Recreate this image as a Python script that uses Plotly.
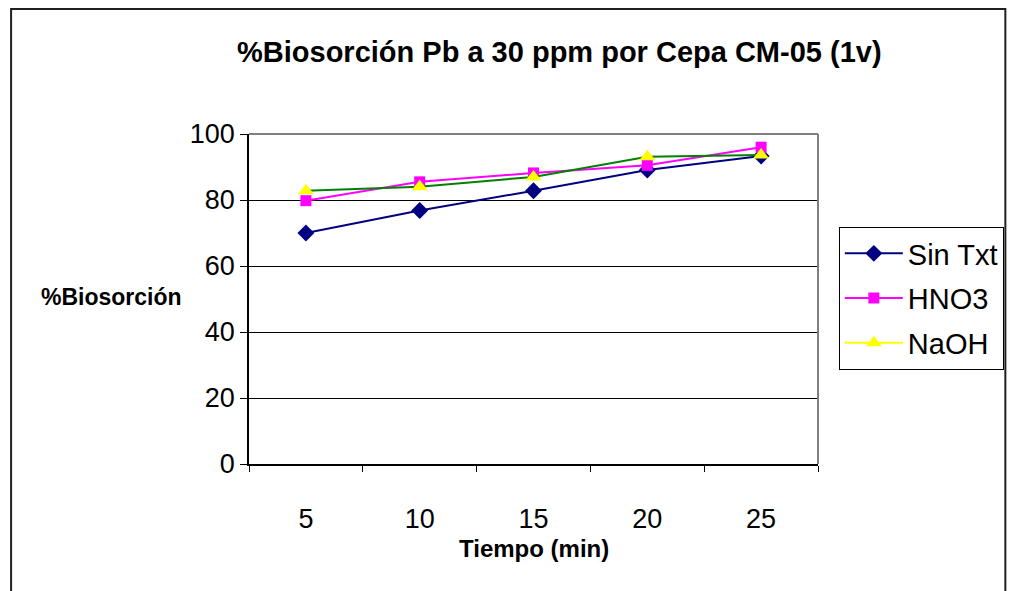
import plotly.graph_objects as go

tiempo = ["5", "10", "15", "20", "25"]
sin_txt = [70.0, 76.8, 82.8, 89.1, 93.3]
hno3 = [79.8, 85.5, 88.2, 90.5, 96.0]
naoh = [82.8, 84.0, 87.0, 93.1, 93.6]

FONT = "Arial, Liberation Sans, sans-serif"

fig = go.Figure()
fig.add_trace(go.Scatter(x=tiempo, y=sin_txt, name="Sin Txt", mode="lines+markers",
                         line=dict(color="#000080", width=2),
                         marker=dict(symbol="diamond", size=13, color="#000080"),
                         legendgroup="a"))
fig.add_trace(go.Scatter(x=tiempo, y=hno3, name="HNO3", mode="lines+markers",
                         line=dict(color="#FF00FF", width=2),
                         marker=dict(symbol="square", size=11, color="#FF00FF"),
                         legendgroup="b"))
fig.add_trace(go.Scatter(x=tiempo, y=naoh, name="NaOH", mode="lines+markers",
                         line=dict(color="#008000", width=2),
                         marker=dict(symbol="triangle-up", size=14, color="#FFFF00"),
                         showlegend=False, legendgroup="c"))
# legend entry for NaOH (legend shows yellow line)
fig.add_trace(go.Scatter(x=[None], y=[None], name="NaOH", mode="lines+markers",
                         line=dict(color="#FFFF00", width=2),
                         marker=dict(symbol="triangle-up", size=14, color="#FFFF00"),
                         legendgroup="c"))

OFF = 8  # page body margin offset
W, H = 1016 - OFF, 591 - OFF
L, T = 249 - OFF, 134 - OFF
pw, ph = 574, 330
R = W - L - pw
B = H - T - ph


def px(x):
    return (x - OFF - L) / pw


def py(y):
    return (T + ph - (y - OFF)) / ph


fig.update_layout(
    width=W, height=H,
    margin=dict(l=L, r=R, t=T, b=B, pad=0),
    paper_bgcolor="white", plot_bgcolor="white",
    font=dict(family=FONT, color="black", size=27),
    showlegend=True,
    legend=dict(x=px(844), y=py(227), xanchor="left", yanchor="top",
                bordercolor="black", borderwidth=1, bgcolor="white",
                font=dict(size=29, family=FONT), itemwidth=58,
                tracegroupgap=4, traceorder="grouped"),
    xaxis=dict(type="category", range=[-0.5, 4.5], showline=True, linecolor="black",
               linewidth=1.5, ticks="outside", tickson="boundaries", ticklen=6,
               tickcolor="black", showgrid=False, zeroline=False,
               ticklabelstandoff=30,
               tickfont=dict(size=27, family=FONT)),
    yaxis=dict(range=[0, 100], tickvals=[0, 20, 40, 60, 80, 100], showline=True,
               linecolor="black", linewidth=1.5, ticks="outside", ticklen=7,
               tickcolor="black", showgrid=True, gridcolor="black", gridwidth=1,
               zeroline=False, tickfont=dict(size=27, family=FONT)),
)

# plot area border (gray top & right)
fig.add_shape(type="line", xref="paper", yref="paper", x0=0, x1=1, y0=1, y1=1,
              line=dict(color="#808080", width=2), layer="above")
fig.add_shape(type="line", xref="paper", yref="paper", x0=1, x1=1, y0=0, y1=1,
              line=dict(color="#808080", width=2), layer="above")
# chart outer border
fig.add_shape(type="rect", xref="paper", yref="paper",
              x0=px(9), x1=px(1012), y0=py(9), y1=py(640),
              line=dict(color="#202020", width=2), fillcolor="rgba(0,0,0,0)", layer="below")

fig.add_annotation(text="<b>%Biosorción Pb a 30 ppm por Cepa CM-05 (1v)</b>",
                   xref="paper", yref="paper", x=px(562), y=py(52),
                   showarrow=False, font=dict(size=29, family=FONT),
                   xanchor="center", yanchor="middle")
fig.add_annotation(text="<b>%Biosorción</b>", xref="paper", yref="paper",
                   x=px(110), y=py(297), showarrow=False,
                   font=dict(size=23, family=FONT), xanchor="center", yanchor="middle")
fig.add_annotation(text="<b>Tiempo (min)</b>", xref="paper", yref="paper",
                   x=px(537), y=py(548), showarrow=False,
                   font=dict(size=24, family=FONT), xanchor="center", yanchor="middle")

fig.write_html("out.html")
